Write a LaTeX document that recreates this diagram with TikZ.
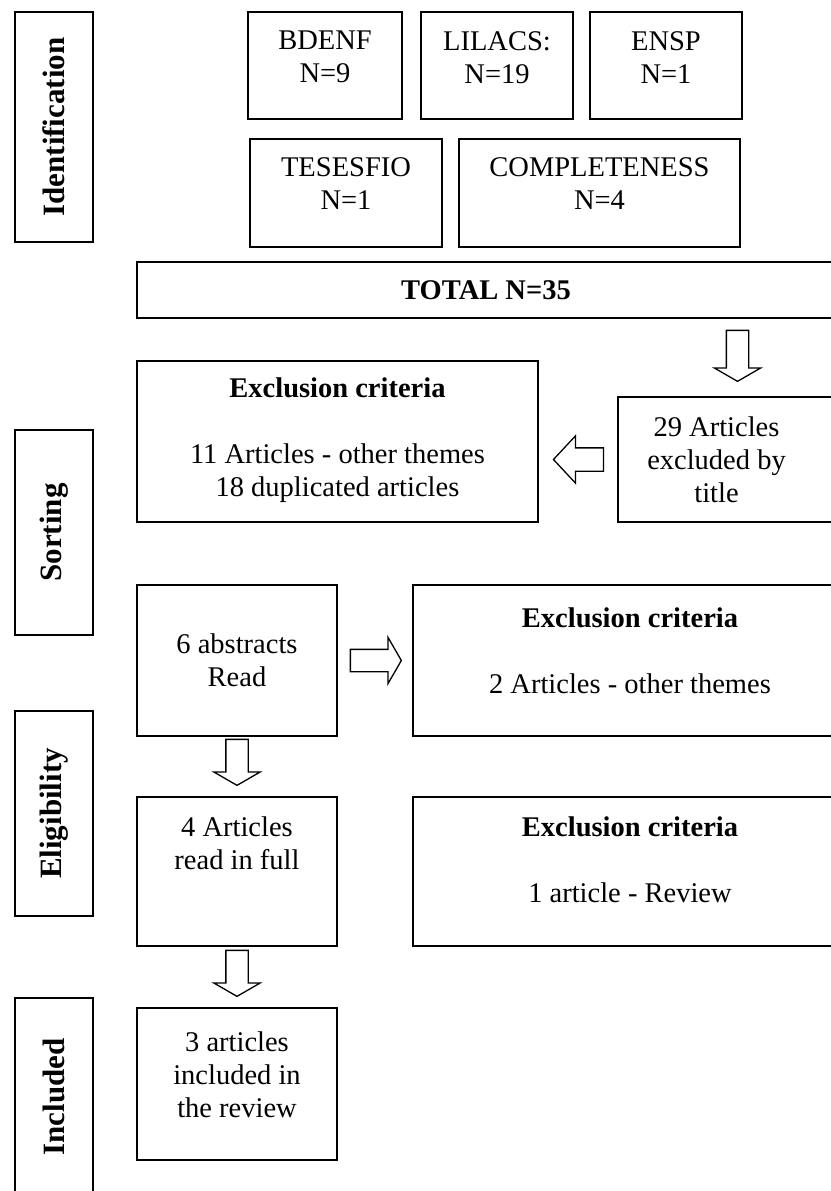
\documentclass[tikz,border=0pt]{standalone}
\usepackage{fontspec}
\setmainfont{Liberation Serif}
\usetikzlibrary{shapes.arrows,positioning}

\tikzset{
  box/.style={draw, line width=1.8pt, inner sep=0pt},
  stage/.style={draw, line width=1.8pt, rotate=90, minimum height=78pt,
        font=\fontsize{31}{36}\selectfont\bfseries},
  txt/.style={align=center, inner sep=0pt, font=\fontsize{28.5}{33}\selectfont},
  blockarrow/.style={single arrow, draw, fill=white, line width=1.3pt,
        inner xsep=0pt, inner ysep=10.5pt, single arrow head extend=12pt,
        single arrow tip angle=120, single arrow head indent=0pt}
}

\begin{document}
\begin{tikzpicture}[x=1pt, y=-1pt]
  \useasboundingbox (0,0) rectangle (830,1191);

  % stages
  \node[stage, minimum width=230pt] (ident) at (54,127) {Identification};
  \node[stage, minimum width=205pt] (sort) at (54,532.5) {Sorting};
  \node[stage, minimum width=205pt] (elig) at (54,813.5) {Eligibility};
  \node[stage, minimum width=198pt] (incl) at (54,1097) {Included};

  % sources
  \node[box, minimum width=154pt, minimum height=107pt] (bdenf) at (325,65.5) {};
  \node[box, minimum width=152pt, minimum height=107pt] (lilacs) at (497,65.5) {};
  \node[box, minimum width=152pt, minimum height=107pt] (ensp) at (666,65.5) {};
  \node[box, minimum width=192pt, minimum height=108pt] (tesesfio) at (346,193) {};
  \node[box, minimum width=281pt, minimum height=108pt] (complet) at (599.5,193) {};
  \node[txt, below=20pt of bdenf.north] (bdenf-t) {BDENF\\N=9};
  \node[txt, below=20pt of lilacs.north] (lilacs-t) {LILACS:\\N=19};
  \node[txt, below=20pt of ensp.north] (ensp-t) {ENSP\\N=1};
  \node[txt, below=19pt of tesesfio.north] (tesesfio-t) {TESESFIO\\N=1};
  \node[txt, below=19pt of complet.north] (complet-t) {COMPLETENESS\\N=4};

  \node[box, minimum width=698pt, minimum height=56pt] (total) at (486,290) {};
  \node[txt, font=\fontsize{28.5}{33}\selectfont\bfseries] (total-t) at (total) {TOTAL N=35};

  % sorting
  \node[box, minimum width=401pt, minimum height=161pt] (excl1) at (337.5,441.5) {};
  \node[box, minimum width=217pt, minimum height=125pt] (excl29) at (726.5,459.5) {};
  \node[txt, below=17pt of excl1.north] (excl1-t)
    {\textbf{Exclusion criteria}\\[33pt]11 Articles - other themes\\18 duplicated articles};
  \node[txt, xshift=-10pt] (excl29-t) at (excl29) {29 Articles\\excluded by\\title};

  \node[box, minimum width=200pt, minimum height=151pt] (abstr) at (237,660.5) {};
  \node[box, minimum width=434pt, minimum height=151pt] (excl2) at (630,660.5) {};
  \node[txt] (abstr-t) at (abstr) {6 abstracts\\Read};
  \node[txt, below=23pt of excl2.north] (excl2-t)
    {\textbf{Exclusion criteria}\\[33pt]2 Articles - other themes};

  % eligibility
  \node[box, minimum width=200pt, minimum height=149pt] (full) at (237,871.5) {};
  \node[box, minimum width=434pt, minimum height=149pt] (excl3) at (630,871.5) {};
  \node[txt, below=20pt of full.north] (full-t) {4 Articles\\read in full};
  \node[txt, below=20pt of excl3.north] (excl3-t)
    {\textbf{Exclusion criteria}\\[33pt]1 article - Review};

  % included
  \node[box, minimum width=200pt, minimum height=152pt] (review) at (237,1084) {};
  \node[txt, below=24pt of review.north] (review-t) {3 articles\\included in\\the review};

  % arrows
  \node[blockarrow, rotate=-90, minimum height=51pt, anchor=tip] (a-total)
    at ([xshift=11pt, yshift=14pt]excl29.north) {};
  \node[blockarrow, rotate=180, minimum height=50pt, inner ysep=11pt,
        single arrow tip angle=94, anchor=tail] (a-excl1)
    at ([xshift=-13pt]excl29.west) {};
  \node[blockarrow, minimum height=51pt, anchor=tip] (a-excl2)
    at ([xshift=-10pt]excl2.west) {};
  \node[blockarrow, rotate=-90, minimum height=46pt, anchor=tip] (a-full)
    at ([yshift=10pt]full.north) {};
  \node[blockarrow, rotate=-90, minimum height=46pt, anchor=tip] (a-review)
    at ([yshift=10pt]review.north) {};
\end{tikzpicture}
\end{document}
